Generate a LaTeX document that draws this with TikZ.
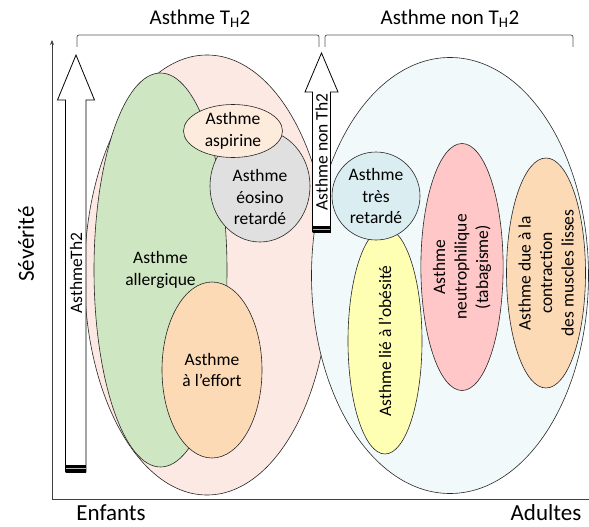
\documentclass[tikz,border=0pt]{standalone}
\usepackage{fontspec}
\setmainfont{Carlito}
\usetikzlibrary{shapes.geometric,arrows.meta}
\definecolor{pinkbg}{HTML}{FDE9E3}
\definecolor{bluebg}{HTML}{F2F9FA}
\definecolor{greenf}{HTML}{CFE6C2}
\definecolor{peachf}{HTML}{FCDAB5}
\definecolor{aspf}{HTML}{FDEBDB}
\definecolor{greyf}{HTML}{E0E0E0}
\definecolor{cyanf}{HTML}{DAEDF1}
\definecolor{yellowf}{HTML}{FFFFB3}
\definecolor{rosef}{HTML}{FFC7C7}
\definecolor{axisc}{HTML}{404040}
\definecolor{brackc}{HTML}{595959}
\begin{document}
\begin{tikzpicture}[x=1pt,y=-1pt,
  blob/.style={ellipse, draw=black!85, line width=0.6pt, inner sep=0pt, align=center,
    font=\fontsize{17.5}{21.5}\selectfont},
  txt/.style={align=center, inner sep=0pt, font=\fontsize{17.5}{21.5}\selectfont},
  blockarrow/.style={draw=black, fill=white, line width=0.8pt, line join=miter},
  bracketline/.style={draw=brackc, line width=0.8pt, rounded corners=2pt},
  axisline/.style={draw=axisc, line width=1pt},
  toplabel/.style={inner sep=0pt, font=\fontsize{21}{25}\selectfont},
  axislabel/.style={inner sep=0pt, font=\fontsize{23}{27}\selectfont}]
\useasboundingbox (0,0) rectangle (589,527);

% big groups
\node[blob, fill=pinkbg, minimum width=245, minimum height=440] (th2) at (207,275) {};
\node[blob, fill=bluebg, minimum width=277, minimum height=436] (nonth2) at (450,275.5) {};

% Th2 subgroups
\node[blob, fill=greenf, minimum width=133, minimum height=394] (allerg) at (160.5,270) {Asthme\\allergique};
\node[blob, fill=greyf, minimum width=100, minimum height=112] (eos) at (260,186) {};
\node[txt] (eostxt) at ([yshift=-11pt]eos.center) {Asthme\\éosino\\retardé};
\node[blob, fill=aspf, minimum width=99, minimum height=53] (asp) at (233,131) {Asthme\\aspirine};
\node[blob, fill=peachf, minimum width=100, minimum height=176] (effort) at (212,370) {Asthme\\à l’effort};

% non Th2 subgroups
\node[blob, fill=yellowf, rotate=90, minimum width=226, minimum height=74] (obes) at (385,341) {Asthme lié à l’obésité};
\node[blob, fill=cyanf, minimum width=88, minimum height=88] (tres) at (376,196) {Asthme\\très\\retardé};
\node[blob, fill=rosef, rotate=90, minimum width=247, minimum height=69] (neutro) at (462,267) {Asthme\\neutrophilique\\(tabagisme)};
\node[blob, fill=peachf, rotate=90, minimum width=230, minimum height=79] (muscle) at (546,273) {Asthme due à la\\contraction\\des muscles lisses};

% block arrows
\draw[blockarrow] (65.5,472) -- (65.5,100) -- (57.5,100) -- (76,55) -- (94.5,100) -- (86,100) -- (86,472) -- cycle;
\fill[black] (65.5,465) rectangle (86,472.5);
\draw[gray!55, line width=1.2pt] (66,468.7) -- (85.5,468.7);
\node[txt, rotate=90] (arrTh2) at (76,273) {AsthmeTh2};

\draw[blockarrow] (312.5,232) -- (312.5,92) -- (305,92) -- (321.5,53) -- (338,92) -- (330.5,92) -- (330.5,232) -- cycle;
\fill[black] (312.5,226) rectangle (330.5,232.5);
\draw[gray!55, line width=1.1pt] (313,229.3) -- (330,229.3);
\node[txt, rotate=90] (arrNon) at (321.5,152) {Asthme non Th2};

% brackets
\draw[bracketline] (77,47) -- (77,35) -- (319,35) -- (319,47);
\draw[bracketline] (325,47) -- (325,35) -- (573,35) -- (573,47);
\node[toplabel] (lblTh2) at (200,19) {Asthme T\textsubscript{H}2};
\node[toplabel] (lblNon) at (450,19) {Asthme non T\textsubscript{H}2};

% axes
\coordinate (origin) at (52,499);
\coordinate (ytop) at (52,40);
\coordinate (xend) at (589,499);
\draw[axisline, -{Stealth[length=5pt,width=4pt]}] (origin) -- (ytop);
\draw[axisline] (origin) -- (xend);
\node[axislabel, rotate=90] (sev) at (26,244) {Sévérité};
\node[axislabel] (enf) at (111,513) {Enfants};
\node[axislabel] (adu) at (546,513) {Adultes};
\end{tikzpicture}
\end{document}
